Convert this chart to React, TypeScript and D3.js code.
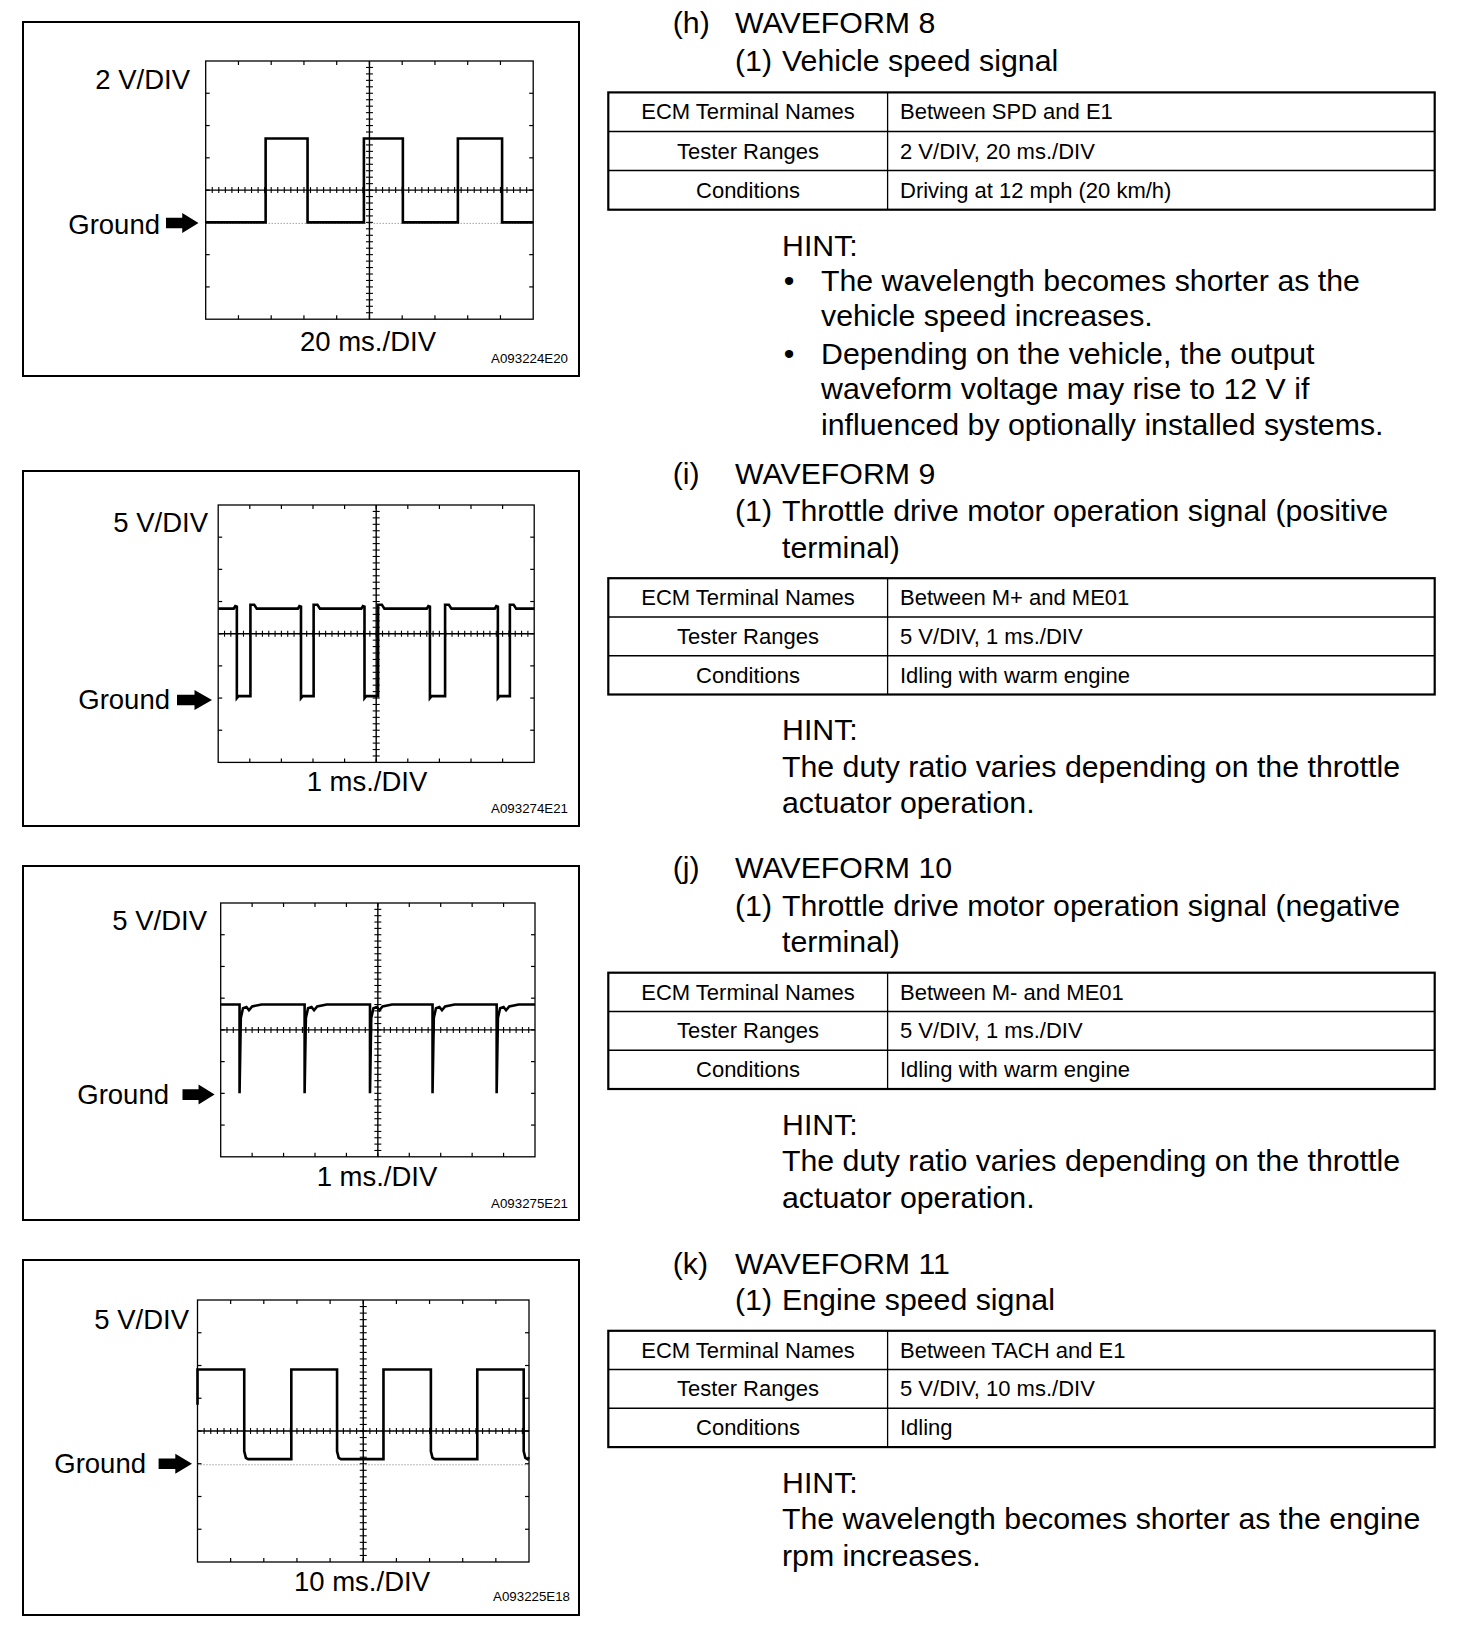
import React from "react";
import * as d3 from "d3";

const FONT = "'Liberation Sans', Arial, Helvetica, sans-serif";

// (h) vehicle speed signal, 2 V/DIV, 20 ms/DIV
const spdRiseMs = [36.6, 96.6, 154];
const spdFallMs = [62.2, 120.4, 181];
const spdHighV = 5.2;
const spdLowV = 0;

// (i) throttle motor M+, 5 V/DIV, 1 ms/DIV
const mPlusFallMs = [0.59, 2.62, 4.63, 6.7, 8.85];
const mPlusRiseMs = [1.02, 3.02, 5.06, 7.18, 9.23];
const mPlusHighV = 13.9;
const mPlusLowV = 0.3;

// (j) throttle motor M-, 5 V/DIV, 1 ms/DIV
const mMinusSpikeMs = [0.6, 2.67, 4.75, 6.74, 8.78];
const mMinusHighV = 14.0;
// trace after each spike: [ms after spike, V]
const mMinusRecovery: [number, number][] = [
  [0, 0], [0.04, 11.9], [0.11, 13.4], [0.22, 13.6], [0.3, 13.1], [0.4, 13.7], [0.7, 14.0],
];

// (k) engine speed signal, 5 V/DIV, 10 ms/DIV
const tachFallMs = [14.1, 42.1, 70.4, 98.4];
const tachRiseMs = [28.3, 56.1, 84.4];
const tachHighV = 14.4;
const tachLowV = 0.7;

const letters = ["(h)", "(i)", "(j)", "(k)"];
const titles = ["WAVEFORM 8", "WAVEFORM 9", "WAVEFORM 10", "WAVEFORM 11"];
const subLines = [
  ["Vehicle speed signal"],
  ["Throttle drive motor operation signal (positive", "terminal)"],
  ["Throttle drive motor operation signal (negative", "terminal)"],
  ["Engine speed signal"],
];
const rowHeads = ["ECM Terminal Names", "Tester Ranges", "Conditions"];
const terminals = ["Between SPD and E1", "Between M+ and ME01", "Between M- and ME01", "Between TACH and E1"];
const ranges = ["2 V/DIV, 20 ms./DIV", "5 V/DIV, 1 ms./DIV", "5 V/DIV, 1 ms./DIV", "5 V/DIV, 10 ms./DIV"];
const conditions = ["Driving at 12 mph (20 km/h)", "Idling with warm engine", "Idling with warm engine", "Idling"];
const hints = [
  [
    ["The wavelength becomes shorter as the", "vehicle speed increases."],
    ["Depending on the vehicle, the output", "waveform voltage may rise to 12 V if", "influenced by optionally installed systems."],
  ],
  [["The duty ratio varies depending on the throttle", "actuator operation."]],
  [["The duty ratio varies depending on the throttle", "actuator operation."]],
  [["The wavelength becomes shorter as the engine", "rpm increases."]],
];
const vDivLabels = ["2 V/DIV", "5 V/DIV", "5 V/DIV", "5 V/DIV"];
const tDivLabels = ["20 ms./DIV", "1 ms./DIV", "1 ms./DIV", "10 ms./DIV"];
const figCodes = ["A093224E20", "A093274E21", "A093275E21", "A093225E18"];
const vPerDiv = [2, 5, 5, 5];
const msPerDiv = [20, 1, 1, 10];
const groundDiv = [5, 6, 6, 5]; // divisions below top edge

// ---- trace builders ----
type Pt = [number, number];

function spdTrace(): Pt[] {
  const pts: Pt[] = [[0, spdLowV]];
  spdRiseMs.forEach((r, i) => {
    pts.push([r, spdLowV], [r, spdHighV], [spdFallMs[i], spdHighV], [spdFallMs[i], spdLowV]);
  });
  pts.push([200, spdLowV]);
  return pts;
}

function mPlusTrace(): Pt[] {
  const pts: Pt[] = [[0, mPlusHighV]];
  mPlusFallMs.forEach((f, i) => {
    const r = mPlusRiseMs[i];
    pts.push([f - 0.1, mPlusHighV], [f - 0.05, mPlusHighV + 0.4], [f, mPlusHighV + 0.3], [f, 0], [f + 0.05, mPlusLowV]);
    pts.push([r, mPlusLowV], [r, mPlusHighV + 0.6], [r + 0.12, mPlusHighV + 0.6], [r + 0.2, mPlusHighV]);
  });
  pts.push([10, mPlusHighV]);
  return pts;
}

function mMinusTrace(): Pt[] {
  const pts: Pt[] = [[0, mMinusHighV]];
  mMinusSpikeMs.forEach((s) => {
    pts.push([s, mMinusHighV]);
    mMinusRecovery.forEach(([dt, v]) => pts.push([s + dt, v]));
  });
  pts.push([10, mMinusHighV]);
  return pts;
}

function tachTrace(): Pt[] {
  const pts: Pt[] = [[0, 9], [0, tachHighV]];
  tachFallMs.forEach((f, i) => {
    pts.push([f, tachHighV], [f, tachLowV + 1.2], [f + 0.5, tachLowV + 0.2], [f + 1.2, tachLowV]);
    const r = tachRiseMs[i];
    if (r !== undefined) pts.push([r, tachLowV], [r, tachHighV]);
  });
  pts.push([100, tachLowV + 0.3]);
  return pts;
}

const traces = [spdTrace(), mPlusTrace(), mMinusTrace(), tachTrace()];

// ---- layout ----
const boxes = [
  { x: 23, y: 22, w: 556, h: 354 },
  { x: 23, y: 471, w: 556, h: 355 },
  { x: 23, y: 866, w: 556, h: 354 },
  { x: 23, y: 1260, w: 556, h: 355 },
];
const plots = [
  { x: 205.7, y: 61, w: 327.5, h: 258.2 },
  { x: 218.2, y: 505, w: 316, h: 257.4 },
  { x: 220.7, y: 903, w: 314.3, h: 253.8 },
  { x: 197.5, y: 1300, w: 331.5, h: 262 },
];
const labelPos = [
  { vx: 190, vy: 89, gx: 160, gy: 234, ax0: 166, ax1: 198.5, ay: 223, tx: 368, ty: 351, cx: 568, cy: 363 },
  { vx: 208, vy: 532, gx: 170, gy: 709, ax0: 177, ax1: 212, ay: 700, tx: 367, ty: 791, cx: 568, cy: 813 },
  { vx: 207, vy: 930, gx: 169, gy: 1104, ax0: 182.5, ax1: 214.6, ay: 1094.6, tx: 377, ty: 1186, cx: 568, cy: 1208 },
  { vx: 189, vy: 1328.6, gx: 146, gy: 1473, ax0: 158.6, ax1: 192, ay: 1463.7, tx: 362, ty: 1591, cx: 570, cy: 1601 },
];
const sectionPos = [
  { title: 22.8, subs: [60.2], t0: 92.4, t1: 209.7, hint: 245, lines: [280.3, 315.6, 353, 388.2, 424.6] },
  { title: 473.4, subs: [510.7, 547], t0: 578.2, t1: 694.5, hint: 729.8, lines: [766.1, 802.5] },
  { title: 867.9, subs: [905.2, 941.6], t0: 972.7, t1: 1089, hint: 1124.3, lines: [1160.6, 1197] },
  { title: 1263.4, subs: [1299.7], t0: 1330.8, t1: 1447.1, hint: 1482.4, lines: [1518.7, 1555.1] },
];

const LABEL_FS = 27.5;
const BODY_FS = 30.3;
const TABLE_FS = 22;

function Arrow({ x0, x1, y }: { x0: number; x1: number; y: number }) {
  const mid = x0 + (x1 - x0) * 0.5;
  const d = `M${x0},${y - 5.3}L${mid},${y - 5.3}L${mid},${y - 10}L${x1},${y}L${mid},${y + 10}L${mid},${y + 5.3}L${x0},${y + 5.3}Z`;
  return <path d={d} fill="#000" />;
}

function Scope({ i }: { i: number }) {
  const p = plots[i];
  const b = boxes[i];
  const lp = labelPos[i];
  const gnd = groundDiv[i];
  const x = d3.scaleLinear().domain([0, 10 * msPerDiv[i]]).range([p.x, p.x + p.w]);
  const y = d3
    .scaleLinear()
    .domain([-(8 - gnd) * vPerDiv[i], gnd * vPerDiv[i]])
    .range([p.y + p.h, p.y]);
  const line = d3
    .line<Pt>()
    .x((d) => x(d[0]))
    .y((d) => y(d[1]));
  const xd = (d: number) => p.x + (d * p.w) / 10;
  const yd = (d: number) => p.y + (d * p.h) / 8;
  const cx = xd(5);
  const cy = yd(4);
  const majorX = d3.range(1, 10);
  const majorY = d3.range(1, 8);
  const minorX = d3.range(1, 50).map((k) => k / 5);
  const minorY = d3.range(1, 40).map((k) => k / 5);

  return (
    <g>
      <rect x={b.x} y={b.y} width={b.w} height={b.h} fill="none" stroke="#000" strokeWidth={2} />
      <rect x={p.x} y={p.y} width={p.w} height={p.h} fill="none" stroke="#000" strokeWidth={1.3} />
      {/* edge ticks */}
      {majorX.map((d) => (
        <g key={"mx" + d}>
          <line x1={xd(d)} x2={xd(d)} y1={p.y} y2={p.y + 4} stroke="#000" strokeWidth={1.2} />
          <line x1={xd(d)} x2={xd(d)} y1={p.y + p.h} y2={p.y + p.h - 4} stroke="#000" strokeWidth={1.2} />
        </g>
      ))}
      {majorY.map((d) => (
        <g key={"my" + d}>
          <line x1={p.x} x2={p.x + 4} y1={yd(d)} y2={yd(d)} stroke="#000" strokeWidth={1.2} />
          <line x1={p.x + p.w} x2={p.x + p.w - 4} y1={yd(d)} y2={yd(d)} stroke="#000" strokeWidth={1.2} />
        </g>
      ))}
      {/* centre cross */}
      <line x1={cx} x2={cx} y1={p.y} y2={p.y + p.h} stroke="#000" strokeWidth={1.4} />
      <line x1={p.x} x2={p.x + p.w} y1={cy} y2={cy} stroke="#000" strokeWidth={1.4} />
      {minorY.map((d) => (
        <line key={"ny" + d} x1={cx - 3.5} x2={cx + 3.5} y1={yd(d)} y2={yd(d)} stroke="#000" strokeWidth={1.1} />
      ))}
      {minorX.map((d) => (
        <line key={"nx" + d} x1={xd(d)} x2={xd(d)} y1={cy - 3} y2={cy + 3} stroke="#000" strokeWidth={1.1} />
      ))}
      {gnd === 5 && (
        <line x1={p.x} x2={p.x + p.w} y1={y(0) + 1} y2={y(0) + 1} stroke="#555" strokeWidth={0.8} strokeDasharray="1 2" />
      )}
      <path d={line(traces[i]) ?? ""} fill="none" stroke="#000" strokeWidth={2.6} strokeLinejoin="miter" />
      <text x={lp.vx} y={lp.vy} textAnchor="end" fontSize={LABEL_FS} fontFamily={FONT}>
        {vDivLabels[i]}
      </text>
      <text x={lp.gx} y={lp.gy} textAnchor="end" fontSize={LABEL_FS} fontFamily={FONT}>
        Ground
      </text>
      <Arrow x0={lp.ax0} x1={lp.ax1} y={lp.ay} />
      <text x={lp.tx} y={lp.ty} textAnchor="middle" fontSize={LABEL_FS} fontFamily={FONT}>
        {tDivLabels[i]}
      </text>
      <text x={lp.cx} y={lp.cy} textAnchor="end" fontSize={13.3} fontFamily={FONT}>
        {figCodes[i]}
      </text>
    </g>
  );
}

function Section({ i }: { i: number }) {
  const s = sectionPos[i];
  const tx0 = 608.3;
  const tx1 = 1434.7;
  const split = 887.6;
  const rh = (s.t1 - s.t0) / 3;
  const rightCol = [terminals[i], ranges[i], conditions[i]];
  const bulleted = hints[i].length > 1;
  let li = 0;
  const hintRows: React.ReactNode[] = [];
  hints[i].forEach((para, pi) => {
    para.forEach((ln, k) => {
      const yy = s.lines[li++];
      if (bulleted && k === 0)
        hintRows.push(
          <text key={"b" + pi} x={789} y={yy} fontSize={BODY_FS} textAnchor="middle" dominantBaseline="central">
            •
          </text>
        );
      hintRows.push(
        <text key={"h" + pi + "-" + k} x={bulleted ? 821 : 782} y={yy} fontSize={BODY_FS} dominantBaseline="central">
          {ln}
        </text>
      );
    });
  });
  return (
    <g fontFamily={FONT}>
      <text x={672.7} y={s.title} fontSize={BODY_FS} dominantBaseline="central">
        {letters[i]}
      </text>
      <text x={735} y={s.title} fontSize={BODY_FS} dominantBaseline="central">
        {titles[i]}
      </text>
      {subLines[i].map((ln, k) => (
        <g key={"s" + k}>
          {k === 0 && (
            <text x={735} y={s.subs[k]} fontSize={BODY_FS} dominantBaseline="central">
              (1)
            </text>
          )}
          <text x={782} y={s.subs[k]} fontSize={BODY_FS} dominantBaseline="central">
            {ln}
          </text>
        </g>
      ))}
      <rect x={tx0} y={s.t0} width={tx1 - tx0} height={s.t1 - s.t0} fill="none" stroke="#000" strokeWidth={2.2} />
      <line x1={split} x2={split} y1={s.t0} y2={s.t1} stroke="#000" strokeWidth={1.3} />
      {[1, 2].map((r) => (
        <line key={"r" + r} x1={tx0} x2={tx1} y1={s.t0 + r * rh} y2={s.t0 + r * rh} stroke="#000" strokeWidth={1.5} />
      ))}
      {rowHeads.map((h, r) => (
        <g key={"c" + r}>
          <text x={748} y={s.t0 + (r + 0.5) * rh} fontSize={TABLE_FS} textAnchor="middle" dominantBaseline="central">
            {h}
          </text>
          <text x={900} y={s.t0 + (r + 0.5) * rh} fontSize={TABLE_FS} dominantBaseline="central">
            {rightCol[r]}
          </text>
        </g>
      ))}
      <text x={782} y={s.hint} fontSize={BODY_FS} dominantBaseline="central">
        HINT:
      </text>
      {hintRows}
    </g>
  );
}

export default function App() {
  return (
    <svg
      width={1472}
      height={1628}
      viewBox="0 0 1472 1628"
      style={{ position: "absolute", left: 0, top: 0, background: "#fff" }}
    >
      <rect width={1472} height={1628} fill="#fff" />
      {[0, 1, 2, 3].map((i) => (
        <Scope key={"p" + i} i={i} />
      ))}
      {[0, 1, 2, 3].map((i) => (
        <Section key={"s" + i} i={i} />
      ))}
    </svg>
  );
}
